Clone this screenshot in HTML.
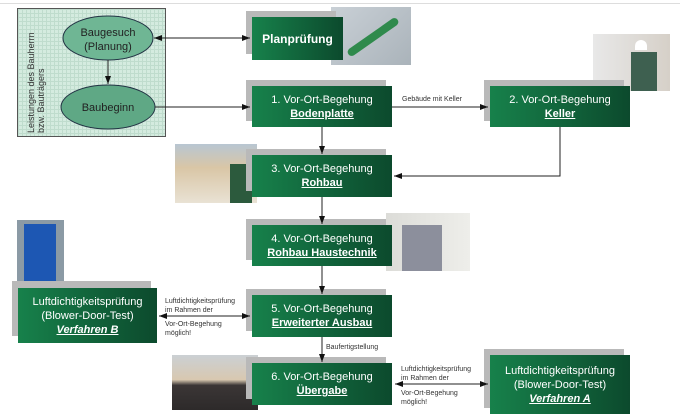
<!DOCTYPE html>
<html><head><meta charset="utf-8"><style>
*{margin:0;padding:0;box-sizing:border-box}
body{width:680px;height:418px;background:#fff;position:relative;overflow:hidden;font-family:"Liberation Sans",sans-serif}
.sh{position:absolute;background:#b9b9b9}
.bx{position:absolute;background:linear-gradient(90deg,#17814b,#0c4a2d);color:#fff;text-align:center;font-size:11px;line-height:14px;display:flex;flex-direction:column;justify-content:center}
.bx b{text-decoration:underline}
.ph{position:absolute}
.lb{position:absolute;font-size:7px;color:#333;line-height:9px}
</style></head><body>
<div style="position:absolute;left:0;top:0;width:680px;height:4px;border-bottom:1px solid #ddd"></div>
<!-- left panel -->
<div style="position:absolute;left:17px;top:8px;width:149px;height:129px;border:1px solid #555;background-color:#d4ebdf;background-image:linear-gradient(#bfdccd 1px,transparent 1px),linear-gradient(90deg,#bfdccd 1px,transparent 1px);background-size:4px 4px"></div>
<div style="position:absolute;left:26px;top:133px;transform:rotate(-90deg);transform-origin:0 0;font-size:9px;line-height:10px;color:#333;width:125px">Leistungen des Bauherrn<br>bzw. Bauträgers</div>
<!-- photos -->
<div class="ph" style="left:331px;top:7px;width:80px;height:58px;background:linear-gradient(135deg,#c9d0d6,#aab3ba)"><div style="position:absolute;left:12px;top:26px;width:60px;height:8px;background:#2f8a4c;transform:rotate(-35deg);border-radius:4px"></div></div>
<div class="ph" style="left:593px;top:34px;width:77px;height:57px;background:linear-gradient(90deg,#e8e8e8,#d6d0c8)"><div style="position:absolute;left:42px;top:6px;width:12px;height:10px;background:#fff;border-radius:6px 6px 0 0"></div><div style="position:absolute;left:38px;top:18px;width:26px;height:39px;background:#3e6050"></div></div>
<div class="ph" style="left:175px;top:144px;width:82px;height:59px;background:linear-gradient(#b8c6d2,#d9c6a6 40%,#e9e2d4)"><div style="position:absolute;left:55px;top:20px;width:22px;height:39px;background:#2c5a3d"></div></div>
<div class="ph" style="left:386px;top:213px;width:84px;height:58px;background:linear-gradient(90deg,#dcdcd8,#eeeeea)"><div style="position:absolute;left:16px;top:12px;width:40px;height:46px;background:#8c8f9c"></div></div>
<div class="ph" style="left:17px;top:220px;width:47px;height:66px;background:#8b9aa5"><div style="position:absolute;left:7px;top:4px;width:32px;height:58px;background:#1d57b3"></div></div>
<div class="ph" style="left:172px;top:355px;width:86px;height:55px;background:linear-gradient(#cbd0d4,#d8c8b0 45%,#3b3636 55%,#2d2a2a)"></div>
<!-- shadows -->
<div class="sh" style="left:246px;top:11px;width:90px;height:43px"></div>
<div class="sh" style="left:246px;top:80px;width:140px;height:41px"></div>
<div class="sh" style="left:484px;top:80px;width:140px;height:41px"></div>
<div class="sh" style="left:246px;top:149px;width:140px;height:42px"></div>
<div class="sh" style="left:246px;top:219px;width:140px;height:41px"></div>
<div class="sh" style="left:246px;top:289px;width:140px;height:42px"></div>
<div class="sh" style="left:12px;top:281px;width:139px;height:55px"></div>
<div class="sh" style="left:246px;top:357px;width:140px;height:42px"></div>
<div class="sh" style="left:484px;top:349px;width:140px;height:59px"></div>
<!-- boxes -->
<div class="bx" style="left:252px;top:17px;width:91px;height:43px;font-weight:bold;font-size:12px">Planprüfung</div>
<div class="bx" style="left:252px;top:86px;width:140px;height:41px">1. Vor-Ort-Begehung<b>Bodenplatte</b></div>
<div class="bx" style="left:490px;top:86px;width:140px;height:41px">2. Vor-Ort-Begehung<b>Keller</b></div>
<div class="bx" style="left:252px;top:155px;width:140px;height:42px">3. Vor-Ort-Begehung<b>Rohbau</b></div>
<div class="bx" style="left:252px;top:225px;width:140px;height:41px">4. Vor-Ort-Begehung<b>Rohbau Haustechnik</b></div>
<div class="bx" style="left:252px;top:295px;width:140px;height:42px">5. Vor-Ort-Begehung<b>Erweiterter Ausbau</b></div>
<div class="bx" style="left:18px;top:288px;width:139px;height:55px">Luftdichtigkeitsprüfung<span>(Blower-Door-Test)</span><b><i>Verfahren B</i></b></div>
<div class="bx" style="left:252px;top:363px;width:140px;height:42px">6. Vor-Ort-Begehung<b>Übergabe</b></div>
<div class="bx" style="left:490px;top:355px;width:140px;height:59px">Luftdichtigkeitsprüfung<span>(Blower-Door-Test)</span><b><i>Verfahren A</i></b></div>
<svg width="680" height="418" style="position:absolute;left:0;top:0">
<defs><marker id="a" markerWidth="8" markerHeight="6" refX="8" refY="3" orient="auto" markerUnits="userSpaceOnUse"><path d="M0,0L8,3L0,6z" fill="#111"/></marker>
<marker id="s" markerWidth="8" markerHeight="6" refX="0" refY="3" orient="auto" markerUnits="userSpaceOnUse"><path d="M8,0L0,3L8,6z" fill="#111"/></marker></defs>
<ellipse cx="108" cy="38" rx="45" ry="22" fill="#6fb694" stroke="#234" stroke-width="1"/>
<ellipse cx="108" cy="107" rx="47" ry="22" fill="#5fa885" stroke="#234" stroke-width="1"/>
<g font-family="Liberation Sans" font-size="11" fill="#222" text-anchor="middle"><text x="108" y="36">Baugesuch</text><text x="108" y="50">(Planung)</text><text x="108" y="111">Baubeginn</text></g>
<g stroke="#222" stroke-width="1" fill="none">
<line x1="108" y1="60" x2="108" y2="84" marker-end="url(#a)"/>
<line x1="154" y1="38" x2="250" y2="38" marker-start="url(#s)" marker-end="url(#a)"/>
<line x1="155" y1="107" x2="250" y2="107" marker-end="url(#a)"/>
<line x1="392" y1="107" x2="488" y2="107" marker-end="url(#a)"/>
<polyline points="560,127 560,176 394,176" marker-end="url(#a)"/>
<line x1="322" y1="127" x2="322" y2="154" marker-end="url(#a)"/>
<line x1="322" y1="197" x2="322" y2="224" marker-end="url(#a)"/>
<line x1="322" y1="266" x2="322" y2="294" marker-end="url(#a)"/>
<line x1="322" y1="337" x2="322" y2="362" marker-end="url(#a)"/>
<line x1="159" y1="316" x2="250" y2="316" marker-start="url(#s)" marker-end="url(#a)"/>
<line x1="395" y1="384" x2="488" y2="384" marker-start="url(#s)" marker-end="url(#a)"/>
</g></svg>
<div class="lb" style="left:402px;top:95px">Gebäude mit Keller</div>
<div class="lb" style="left:165px;top:297px">Luftdichtigkeitsprüfung<br>im Rahmen der</div>
<div class="lb" style="left:165px;top:320px">Vor-Ort-Begehung<br>möglich!</div>
<div class="lb" style="left:326px;top:343px">Baufertigstellung</div>
<div class="lb" style="left:401px;top:365px">Luftdichtigkeitsprüfung<br>im Rahmen der</div>
<div class="lb" style="left:401px;top:389px">Vor-Ort-Begehung<br>möglich!</div>
</body></html>
